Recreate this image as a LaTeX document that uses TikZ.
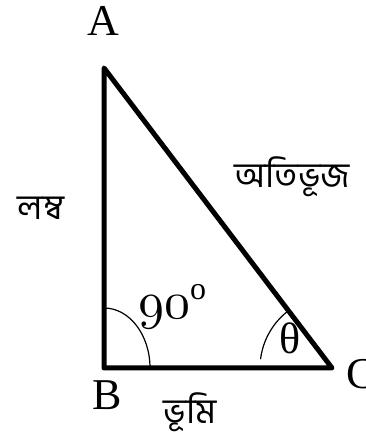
\documentclass[tikz,border=0pt]{standalone}
\usepackage{fontspec}
\setmainfont{Liberation Serif}
\newfontfamily\bangla[Script=Bengali]{Hind Siliguri}
\newcommand\oldfig{\fontencoding{OML}\fontfamily{lmm}\fontseries{m}\fontshape{it}\fontsize{10}{10}\selectfont}

\begin{document}
\begin{tikzpicture}[
    x=1pt, y=1pt,
    side/.style={line width=5pt, line join=round},
    anglearc/.style={line width=1.2pt},
    vertex/.style={font=\fontsize{44}{44}\selectfont, inner sep=0pt},
    sidename/.style={font=\bangla\fontsize{35}{35}\selectfont, inner sep=0pt, anchor=base}
]
\useasboundingbox (0,0) rectangle (366,442);

% vertices
\coordinate (A) at (104,374);
\coordinate (B) at (104,74);
\coordinate (C) at (332,74);

% triangle
\draw[side] (A) -- (B) -- (C) -- cycle;

% angle marks
\draw[anglearc] ([yshift=60pt]B) arc[start angle=90, end angle=0, x radius=46, y radius=60];
\draw[anglearc] (C) ++(128:72) arc[start angle=128, end angle=173, radius=72];

% vertex labels
\node[vertex] (lA) at (103,421) {A};
\node[vertex] (lB) at (107,47) {B};
\node[vertex] (lC) at (361,68) {C};

% side names
\node[sidename] (lamba) at (41,222) {লম্ব};
\node[sidename] (atibhuj) at (292,254) {অতিভূজ};
\node[sidename] (bhumi) at (190,19) {ভূমি};

% angle values
\node[inner sep=0pt, anchor=base west] (right) at (138,124)
    {\scalebox{5.2}{\oldfig 90}\raisebox{18pt}{\fontsize{32}{32}\selectfont o}};
\node[vertex] (theta) at (290,104) {θ};
\end{tikzpicture}
\end{document}
